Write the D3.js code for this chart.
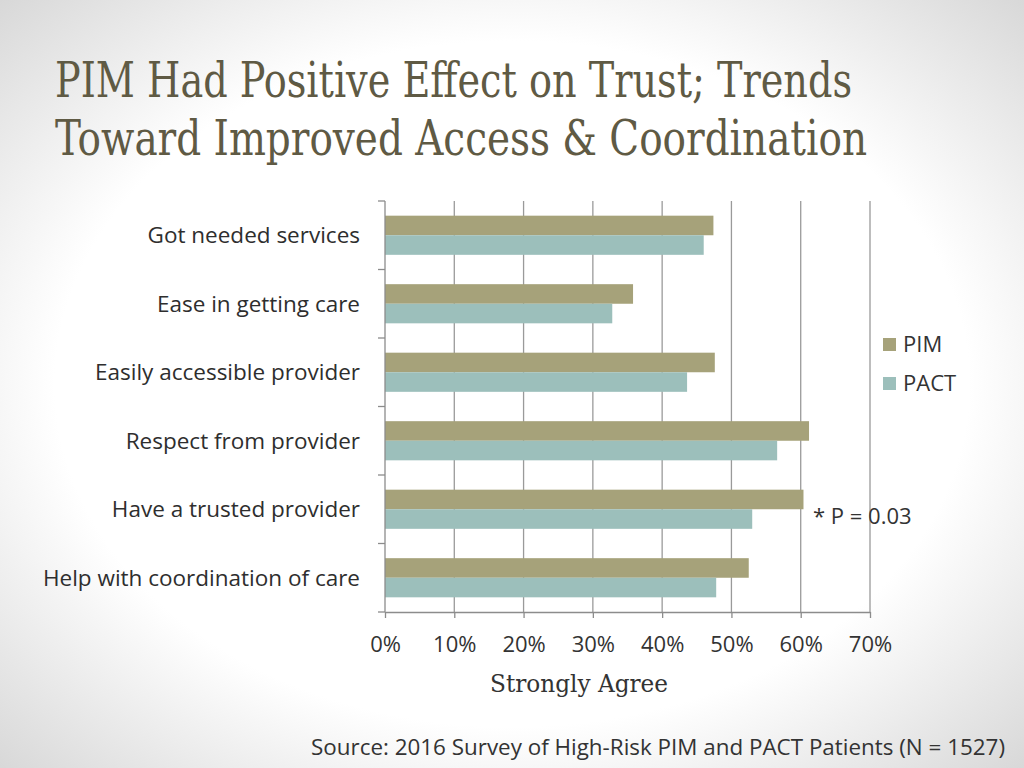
<!DOCTYPE html>
<html>
<head>
<meta charset="utf-8">
<script src="https://cdn.jsdelivr.net/npm/d3@7"></script>
<style>
  html, body { margin: 0; padding: 0; background: #fff; }
  svg { display: block; }
</style>
</head>
<body>
<svg id="chart" width="1024" height="768"></svg>
<script>
// --- data ---
const categories = [
    "Got needed services",
    "Ease in getting care",
    "Easily accessible provider",
    "Respect from provider",
    "Have a trusted provider",
    "Help with coordination of care"
];
const seriesNames = ["PIM", "PACT"];
const pimValues = [47.4, 35.8, 47.6, 61.2, 60.4, 52.5];
const pactValues = [46.0, 32.8, 43.6, 56.6, 53.0, 47.8];
const xTicks = [0, 10, 20, 30, 40, 50, 60, 70];
const seriesColors = ["#a6a27a", "#9cbfbb"];

const svg = d3.select("#chart");
const W = 1024, H = 768;
const labelFont = "'Open Sans', sans-serif";
const serifFont = "'DejaVu Serif Condensed', 'DejaVu Serif', serif";

// --- slide background: white centre fading to grey at the edges ---
const defs = svg.append("defs");
const grad = defs.append("radialGradient")
    .attr("id", "bg")
    .attr("cx", "50%").attr("cy", "50%").attr("r", "72%");
grad.append("stop").attr("offset", "0%").attr("stop-color", "#ffffff");
grad.append("stop").attr("offset", "62%").attr("stop-color", "#ffffff");
grad.append("stop").attr("offset", "100%").attr("stop-color", "#d6d6d6");
svg.append("rect").attr("width", W).attr("height", H).attr("fill", "url(#bg)");

// --- title ---
const titleLines = [
    { text: "PIM Had Positive Effect on Trust; Trends", y: 97, len: 797 },
    { text: "Toward Improved Access & Coordination", y: 155, len: 812 }
];
svg.selectAll("text.title")
    .data(titleLines)
    .enter()
    .append("text")
    .attr("class", "title")
    .attr("x", 55)
    .attr("y", d => d.y)
    .attr("textLength", d => d.len)
    .attr("lengthAdjust", "spacingAndGlyphs")
    .style("font-family", serifFont)
    .style("font-stretch", "condensed")
    .style("font-size", "48px")
    .style("fill", "#5f5a44")
    .text(d => d.text);

// --- chart area ---
const plot = { left: 385, right: 870, top: 201, bottom: 612 };

const x = d3.scaleLinear()
    .domain([0, 70])
    .range([plot.left, plot.right]);

const y = d3.scaleBand()
    .domain(categories)
    .range([plot.top, plot.bottom])
    .paddingInner(0)
    .paddingOuter(0);

const inner = d3.scaleBand()
    .domain(seriesNames)
    .range([0, y.bandwidth()])
    .paddingOuter(0.75)
    .paddingInner(0);

const g = svg.append("g");

// vertical gridlines
g.selectAll("line.grid")
    .data(xTicks.slice(1))
    .enter()
    .append("line")
    .attr("x1", d => x(d)).attr("x2", d => x(d))
    .attr("y1", plot.top).attr("y2", plot.bottom)
    .attr("stroke", "#9a9a9a")
    .attr("stroke-width", 1.3);

// bars
const rows = categories.map((c, i) => ({ cat: c, vals: [pimValues[i], pactValues[i]] }));
const rowG = g.selectAll("g.row")
    .data(rows)
    .enter()
    .append("g")
    .attr("transform", d => `translate(0,${y(d.cat)})`);

rowG.selectAll("rect")
    .data(d => d.vals.map((v, k) => ({ name: seriesNames[k], value: v, color: seriesColors[k] })))
    .enter()
    .append("rect")
    .attr("x", x(0))
    .attr("y", d => inner(d.name))
    .attr("width", d => x(d.value) - x(0))
    .attr("height", inner.bandwidth())
    .attr("fill", d => d.color);

// y axis line + ticks at band edges (labels drawn separately)
const axisColor = "#8c8c8c";
g.append("line")
    .attr("x1", plot.left).attr("x2", plot.left)
    .attr("y1", plot.top).attr("y2", plot.bottom)
    .attr("stroke", axisColor).attr("stroke-width", 1.3);
const bandEdges = categories.map(c => y(c)).concat([plot.bottom]);
g.selectAll("line.ytick")
    .data(bandEdges)
    .enter()
    .append("line")
    .attr("x1", plot.left - 7).attr("x2", plot.left)
    .attr("y1", d => d).attr("y2", d => d)
    .attr("stroke", axisColor).attr("stroke-width", 1.3);

// x axis
const xAxis = d3.axisBottom(x)
    .tickValues(xTicks)
    .tickFormat(d => d + "%")
    .tickSizeInner(6)
    .tickSizeOuter(0)
    .tickPadding(18);
const xg = g.append("g")
    .attr("transform", `translate(0,${plot.bottom})`)
    .call(xAxis);
xg.select(".domain").attr("stroke", axisColor).attr("stroke-width", 1.3);
xg.selectAll(".tick line").attr("stroke", axisColor).attr("stroke-width", 1.3);
xg.selectAll(".tick text")
    .style("font-family", labelFont)
    .style("font-size", "22px")
    .style("fill", "#333");

// category labels
g.selectAll("text.cat")
    .data(categories)
    .enter()
    .append("text")
    .attr("class", "cat")
    .attr("x", 360)
    .attr("y", d => y(d) + 42)
    .attr("text-anchor", "end")
    .style("font-family", labelFont)
    .style("font-size", "22.5px")
    .style("fill", "#2e2e2e")
    .text(d => d);

// x axis title
svg.append("text")
    .attr("x", 579).attr("y", 692)
    .attr("text-anchor", "middle")
    .attr("textLength", 178)
    .attr("lengthAdjust", "spacingAndGlyphs")
    .style("font-family", serifFont)
    .style("font-stretch", "condensed")
    .style("font-size", "25px")
    .style("fill", "#333")
    .text("Strongly Agree");

// significance note
svg.append("text")
    .attr("x", 813).attr("y", 524)
    .style("font-family", labelFont)
    .style("font-size", "22px")
    .style("fill", "#333")
    .text("* P = 0.03");

// legend
const legend = svg.append("g").attr("transform", "translate(883,338)");
const legItems = legend.selectAll("g")
    .data(seriesNames)
    .enter()
    .append("g")
    .attr("transform", (d, i) => `translate(0,${i * 39})`);
legItems.append("rect")
    .attr("width", 13).attr("height", 13)
    .attr("fill", (d, i) => seriesColors[i]);
legItems.append("text")
    .attr("x", 20).attr("y", 14)
    .style("font-family", labelFont)
    .style("font-size", "22px")
    .style("fill", "#333")
    .text(d => d);

// source line
svg.append("text")
    .attr("x", 311).attr("y", 755)
    .attr("textLength", 694)
    .attr("lengthAdjust", "spacingAndGlyphs")
    .style("font-family", labelFont)
    .style("font-size", "21px")
    .style("fill", "#333")
    .text("Source: 2016 Survey of High-Risk PIM and PACT Patients (N = 1527)");
</script>
</body>
</html>
